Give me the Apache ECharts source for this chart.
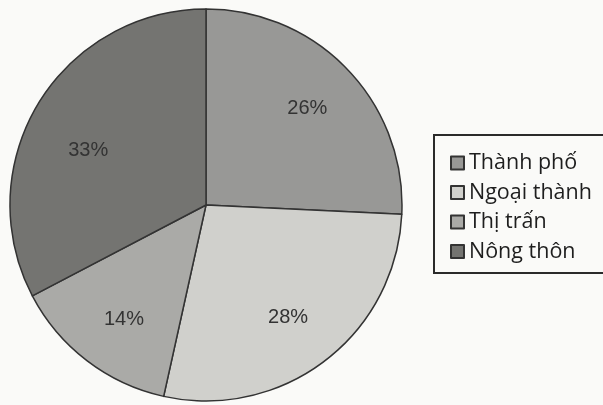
<!DOCTYPE html>
<html>
<head>
<meta charset="utf-8">
<script src="https://cdn.jsdelivr.net/npm/echarts@6/dist/echarts.min.js"></script>
<style>
html,body{margin:0;padding:0;background:#fafaf8;}
#chart{width:603px;height:405px;}
</style>
</head>
<body>
<div id="chart"></div>
<script>
const categories = ['Thành phố', 'Ngoại thành', 'Thị trấn', 'Nông thôn'];
const values = [26, 28, 14, 33];
const labels = ['26%', '28%', '14%', '33%'];
const colors = ['#989896', '#d0d0cc', '#aaaaa7', '#747471'];

const chart = echarts.init(document.getElementById('chart'), null, {renderer: 'canvas'});
const mainData = categories.map((c, i) => ({name: c, value: values[i], itemStyle: {color: colors[i]}}));
const labelOffsets = [[0, 0], [-3, 1], [3, 3], [2, 18]];
const labelData = categories.map((c, i) => ({
  name: c, value: values[i],
  label: {formatter: labels[i], offset: labelOffsets[i]}
}));

chart.setOption({
  backgroundColor: '#fafaf8',
  animation: false,
  legend: {
    orient: 'vertical',
    left: 434,
    top: 135,
    padding: [16, 40, 9.5, 16],
    borderColor: '#2a2a2a',
    borderWidth: 2,
    icon: 'rect',
    itemWidth: 13,
    itemHeight: 13,
    itemGap: 5.5,
    data: categories,
    textStyle: {fontFamily: 'Open Sans', fontSize: 21.5, color: '#1e1e1e', lineHeight: 24}
  },
  series: [
    {
      type: 'pie',
      center: [206, 205],
      radius: [0, 196],
      startAngle: 90,
      clockwise: true,
      label: {show: false},
      labelLine: {show: false},
      emphasis: {disabled: true},
      itemStyle: {borderColor: '#333', borderWidth: 1.5},
      data: mainData
    },
    {
      type: 'pie',
      center: [206, 205],
      radius: [78, 196],
      startAngle: 90,
      clockwise: true,
      silent: true,
      legendHoverLink: false,
      itemStyle: {color: 'rgba(0,0,0,0)', borderWidth: 0},
      label: {show: true, position: 'inside', fontFamily: 'Liberation Sans', fontSize: 20, color: '#333'},
      labelLine: {show: false},
      emphasis: {disabled: true},
      data: labelData
    }
  ]
});
</script>
</body>
</html>
